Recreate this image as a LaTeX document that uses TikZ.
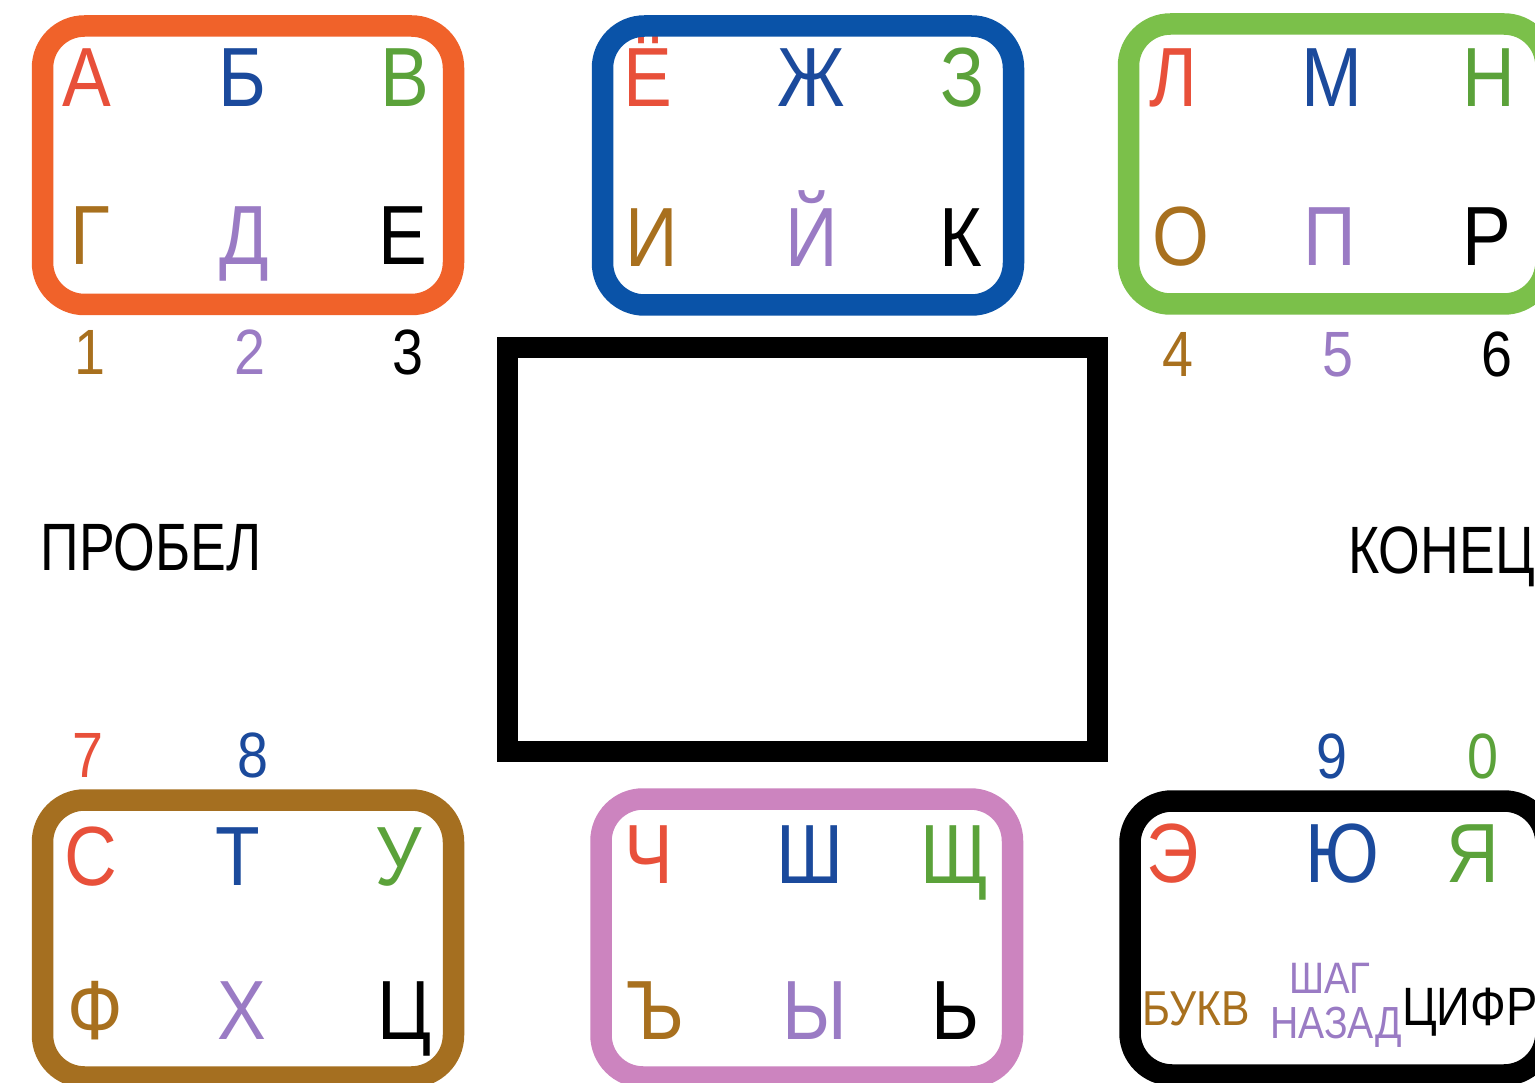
\documentclass[tikz,border=0pt]{standalone}
\usepackage{fontspec}
\setmainfont{Liberation Sans}
\newcommand\cnd[1]{\scalebox{0.87}[1]{#1}}
\newcommand\cndw[1]{\scalebox{0.80}[1]{#1}}
\definecolor{cred}{HTML}{E8503A}
\definecolor{cblue}{HTML}{1B4A9C}
\definecolor{cgreen}{HTML}{5BA23A}
\definecolor{cbrown}{HTML}{A8701E}
\definecolor{cpurple}{HTML}{9A7BC4}
\definecolor{borange}{HTML}{F0622A}
\definecolor{bblue}{HTML}{0A53A8}
\definecolor{bgreen}{HTML}{7BC04A}
\definecolor{bbrown}{HTML}{A56F20}
\definecolor{bpink}{HTML}{CC84BF}
\tikzset{
  ltr/.style={anchor=base, inner sep=0pt, font=\fontsize{84}{84}\selectfont},
  num/.style={anchor=base, inner sep=0pt, font=\fontsize{64}{64}\selectfont},
  word/.style={anchor=base, inner sep=0pt, font=\fontsize{67}{67}\selectfont},
  small/.style={anchor=base, inner sep=0pt, font=\fontsize{#1}{#1}\selectfont},
  frame/.style={line width=21.5pt, rounded corners=42pt},
}
\begin{document}
\begin{tikzpicture}[x=1pt, y=-1pt]
\useasboundingbox (0,0) rectangle (1535,1083);
\clip (0,0) rectangle (1535,1083);
\fill[white] (0,0) rectangle (1535,1083);

% top-left group
\node[ltr, cred]    (a)  at (87,107)  {\cnd{А}};
\node[ltr, cblue]   (b)  at (242,107) {\cnd{Б}};
\node[ltr, cgreen]  (v)  at (405,107) {\cnd{В}};
\node[ltr, cbrown]  (g)  at (90,265)  {\cnd{Г}};
\node[ltr, cpurple] (d)  at (244,265) {\cnd{Д}};
\node[ltr, black]   (e)  at (403,265) {\cnd{Е}};
\draw[frame, borange] (42.5,26) rectangle (453.5,304.5);
\node[num, cbrown]  (n1) at (90,374)  {\cnd{1}};
\node[num, cpurple] (n2) at (250,374) {\cnd{2}};
\node[num, black]   (n3) at (408,374) {\cnd{3}};

% top-middle group
\node[ltr, cred]    (yo) at (648,107) {\cnd{Ё}};
\node[ltr, cblue]   (zh) at (811,107) {\cnd{Ж}};
\node[ltr, cgreen]  (z)  at (963,107) {\cnd{З}};
\node[ltr, cbrown]  (i)  at (652,267) {\cnd{И}};
\node[ltr, cpurple] (ik) at (812,267) {\cnd{Й}};
\node[ltr, black]   (k)  at (961,267) {\cnd{К}};
\draw[frame, bblue] (602.5,26) rectangle (1013.5,305);

% top-right group
\node[ltr, cred]    (l)  at (1173,107) {\cnd{Л}};
\node[ltr, cblue]   (m)  at (1332,107) {\cnd{М}};
\node[ltr, cgreen]  (nn) at (1489,107) {\cnd{Н}};
\node[ltr, cbrown]  (o)  at (1181,266) {\cnd{О}};
\node[ltr, cpurple] (p)  at (1330,266) {\cnd{П}};
\node[ltr, black]   (r)  at (1487,266) {\cnd{Р}};
\draw[frame, bgreen] (1128.5,24) rectangle (1546,304);
\node[num, cbrown]  (n4) at (1178,377) {\cnd{4}};
\node[num, cpurple] (n5) at (1338,377) {\cnd{5}};
\node[num, black]   (n6) at (1497,377) {\cnd{6}};

% centre screen
\draw[line width=21pt, black] (507.5,347.5) rectangle (1097,751.5);

% side words
\node[word, black] (space) at (151,570) {\cndw{ПРОБЕЛ}};
\node[word, black, anchor=base west] (end) at (1348,573) {\cndw{КОНЕЦ}};

% bottom-left group
\node[num, cred]    (n7) at (88,777)  {\cnd{7}};
\node[num, cblue]   (n8) at (253,777) {\cnd{8}};
\node[ltr, cred]    (s)  at (91,885)  {\cnd{С}};
\node[ltr, cblue]   (t)  at (238,885) {\cnd{Т}};
\node[ltr, cgreen]  (u)  at (399,885) {\cnd{У}};
\node[ltr, cbrown]  (f)  at (95,1039) {\cnd{Ф}};
\node[ltr, cpurple] (h)  at (242,1039) {\cnd{Х}};
\node[ltr, black]   (ts) at (405,1039) {\cnd{Ц}};
\draw[frame, bbrown] (42.5,800) rectangle (453.5,1077);

% bottom-middle group
\node[ltr, cred]    (ch)   at (649,883)  {\cnd{Ч}};
\node[ltr, cblue]   (sh)   at (810,883)  {\cnd{Ш}};
\node[ltr, cgreen]  (shch) at (955,883)  {\cnd{Щ}};
\node[ltr, cbrown]  (hard) at (655,1039) {\cnd{Ъ}};
\node[ltr, cpurple] (yy)   at (815,1039) {\cnd{Ы}};
\node[ltr, black]   (soft) at (955,1039) {\cnd{Ь}};
\draw[frame, bpink] (601,799) rectangle (1012.5,1077);

% bottom-right group
\node[num, cblue]   (n9) at (1332,778) {\cnd{9}};
\node[num, cgreen]  (n0) at (1483,778) {\cnd{0}};
\node[ltr, cred]    (ee) at (1173,882) {\cnd{Э}};
\node[ltr, cblue]   (yu) at (1342,882) {\cnd{Ю}};
\node[ltr, cgreen]  (ya) at (1473,882) {\cnd{Я}};
\node[small=49, cbrown]  (bukv)  at (1196,1025) {\cnd{БУКВ}};
\node[small=44, cpurple] (shag)  at (1330,993)  {\cnd{ШАГ}};
\node[small=45, cpurple] (nazad) at (1336,1038) {\cnd{НАЗАД}};
\node[small=54, black, anchor=base west] (tsifr) at (1402,1025) {\cnd{ЦИФР}};
\draw[frame, black] (1130,801) rectangle (1546,1075);
\end{tikzpicture}
\end{document}
